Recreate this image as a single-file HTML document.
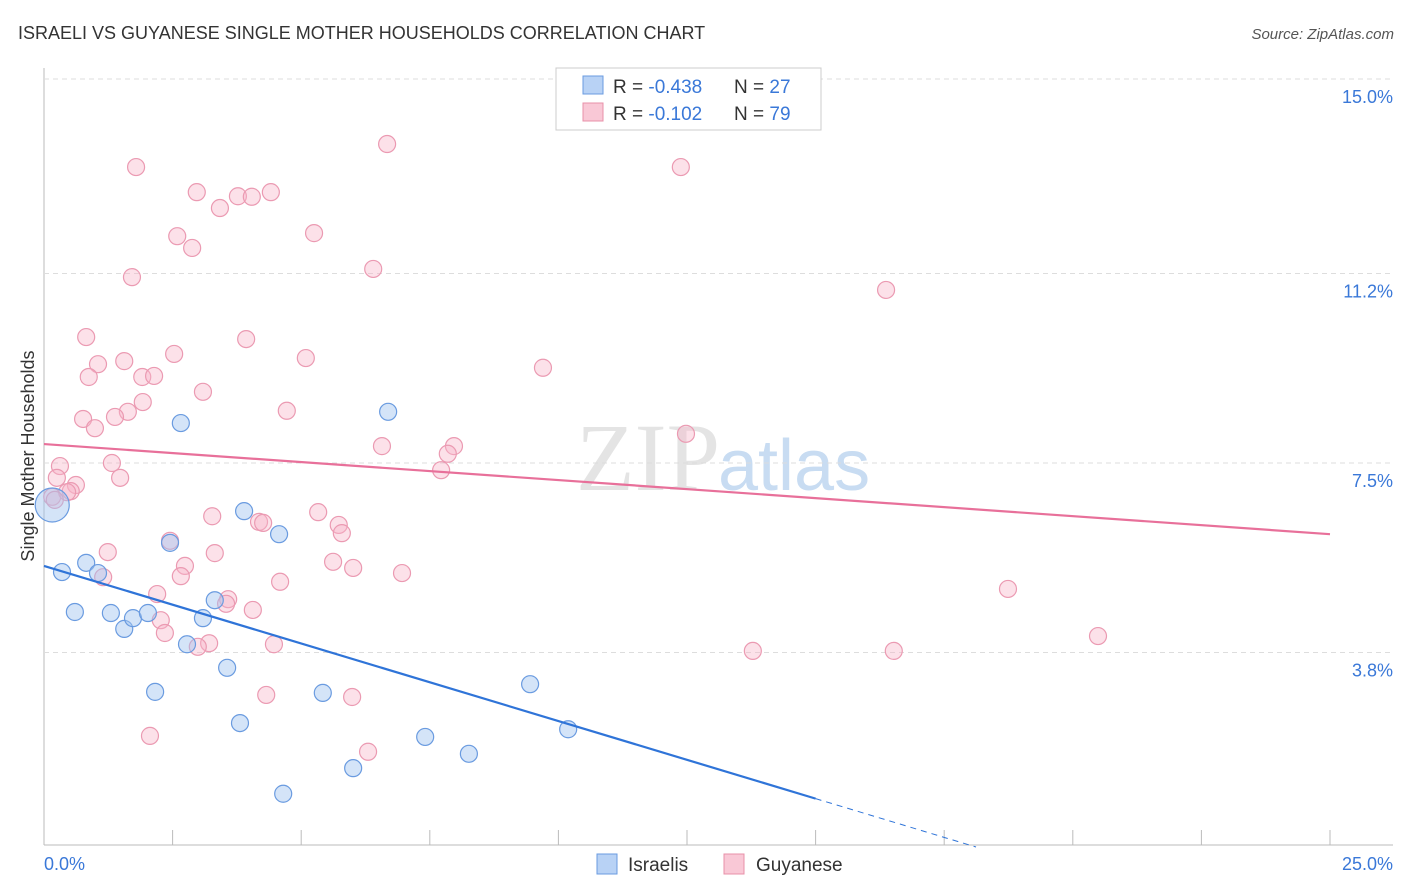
<!DOCTYPE html>
<html><head><meta charset="utf-8"><style>
body{margin:0;background:#fff;font-family:"Liberation Sans",sans-serif;}
#wrap{position:relative;width:1406px;height:892px;overflow:hidden;}
</style></head><body>
<div id="wrap">
<svg id="svg" width="1406" height="892" xmlns="http://www.w3.org/2000/svg">
<text x="18" y="39" font-size="18" fill="#333">ISRAELI VS GUYANESE SINGLE MOTHER HOUSEHOLDS CORRELATION CHART</text>
<text x="1394" y="39" font-size="15" fill="#555" font-style="italic" text-anchor="end">Source: ZipAtlas.com</text>
<text x="34" y="456" font-size="18" fill="#333" text-anchor="middle" transform="rotate(-90 34 456)">Single Mother Households</text>
<text x="720" y="490" font-size="96" fill="#e4e4e4" text-anchor="end" font-family="Liberation Serif">ZIP</text>
<text x="718" y="490" font-size="72" fill="#c8dcf2">atlas</text>
<g id="grid"></g>
<g id="marks"></g>
<g>
<rect x="556" y="68" width="265" height="62" fill="#fff" stroke="#ccc"/>
<rect x="583" y="76" width="20" height="18" fill="#b8d2f5" stroke="#6a9be0"/>
<rect x="583" y="103" width="20" height="18" fill="#f9c8d6" stroke="#e890a8"/>
<text x="613" y="93" font-size="19" fill="#333">R = <tspan fill="#3a78d8">-0.438</tspan></text>
<text x="734" y="93" font-size="19" fill="#333">N = <tspan fill="#3a78d8">27</tspan></text>
<text x="613" y="120" font-size="19" fill="#333">R = <tspan fill="#3a78d8"> -0.102</tspan></text>
<text x="734" y="120" font-size="19" fill="#333">N = <tspan fill="#3a78d8">79</tspan></text>
</g>
<g>
<rect x="597" y="854" width="20" height="20" fill="#b8d2f5" stroke="#6a9be0"/>
<text x="628" y="871" font-size="19" fill="#333">Israelis</text>
<rect x="724" y="854" width="20" height="20" fill="#f9c8d6" stroke="#e890a8"/>
<text x="756" y="871" font-size="19" fill="#333">Guyanese</text>
</g>
</svg>
</div>
<script>
const yTicks=[15.0,11.2,7.5,3.8];
const yTickLabels=["15.0%","11.2%","7.5%","3.8%"];
const xTickVals=[2.5,5,7.5,10,12.5,15,17.5,20,22.5,25];
const xEndLabels=["0.0%","25.0%"];
const israeliX=[0.16,0.35,0.60,0.82,1.05,1.30,1.56,1.73,2.02,2.16,2.45,2.66,2.78,3.09,3.32,3.56,3.81,3.89,4.57,4.65,5.42,6.01,6.69,7.41,8.26,9.45,10.19];
const israeliY=[6.68,5.37,4.59,5.55,5.35,4.57,4.26,4.47,4.57,3.03,5.94,8.28,3.96,4.47,4.82,3.50,2.42,6.56,6.11,1.04,3.01,1.54,8.50,2.15,1.82,3.18,2.30];
const guyX=[1.79,6.67,12.38,2.97,3.42,3.77,4.04,4.41,2.59,2.88,5.25,1.71,6.40,16.37,0.82,3.93,2.53,5.09,1.05,1.56,0.87,1.91,2.14,9.70,3.09,1.92,1.63,1.38,0.76,0.99,4.72,6.57,7.97,7.85,12.48,1.32,0.31,0.25,1.48,7.72,0.62,0.52,0.16,3.27,5.33,4.18,4.26,5.73,5.79,2.45,1.24,3.32,5.62,6.01,2.74,2.66,1.15,6.96,4.59,18.74,2.20,3.58,3.54,4.06,2.27,2.35,3.21,2.99,4.47,20.49,13.78,16.52,4.32,5.99,2.06,6.30,0.45,0.21];
const guyY=[13.28,13.73,13.28,12.79,12.48,12.71,12.70,12.79,11.93,11.70,11.99,11.13,11.29,10.88,9.96,9.92,9.63,9.55,9.43,9.49,9.18,9.18,9.20,9.36,8.89,8.69,8.50,8.40,8.36,8.18,8.52,7.83,7.83,7.68,8.07,7.50,7.44,7.21,7.21,7.36,7.07,6.95,6.84,6.46,6.54,6.35,6.33,6.29,6.13,5.98,5.76,5.74,5.57,5.45,5.49,5.29,5.27,5.35,5.18,5.04,4.94,4.84,4.75,4.63,4.43,4.18,3.98,3.91,3.96,4.12,3.83,3.83,2.97,2.93,2.17,1.86,6.93,6.78];
const blueTrend=[5.49,-0.303];
const pinkTrend=[7.87,-0.0704];

const NS="http://www.w3.org/2000/svg";
const X=v=>44+v*51.44, Y=v=>79+(15-v)*51.2;
const grid=document.getElementById('grid'), marks=document.getElementById('marks');
function mk(tag,attrs,parent){const e=document.createElementNS(NS,tag);for(const k in attrs)e.setAttribute(k,attrs[k]);parent.appendChild(e);return e;}
let e;
e=mk('line',{x1:44,y1:68,x2:44,y2:845,stroke:'#bbb'},grid);


e=mk('line',{x1:44,y1:845,x2:1393,y2:845,stroke:'#bbb'},grid);


yTicks.forEach((t,i)=>{
  e=mk('line',{x1:44,y1:Y(t),x2:1393,y2:Y(t),stroke:'#ddd','stroke-dasharray':'5,4'},grid);
  
  
  e=mk('text',{x:1393,y:Y(t)+24,'font-size':18,fill:'#3a78d8','text-anchor':'end'},grid);
  e.textContent=yTickLabels[i];
  
  
});
xTickVals.forEach(t=>{
  e=mk('line',{x1:X(t),y1:830,x2:X(t),y2:845,stroke:'#bbb'},grid);
  
  
});
e=mk('text',{x:44,y:870,'font-size':18,fill:'#3a78d8'},grid);e.textContent=xEndLabels[0];


e=mk('text',{x:1393,y:870,'font-size':18,fill:'#3a78d8','text-anchor':'end'},grid);e.textContent=xEndLabels[1];



guyX.forEach((x,i)=>{
  e=mk('circle',{cx:X(x),cy:Y(guyY[i]),r:8.5,fill:'rgba(248,180,200,0.4)',stroke:'#eb9ab2','stroke-width':1.2},marks);
  
  
});
israeliX.forEach((x,i)=>{
  e=mk('circle',{cx:X(x),cy:Y(israeliY[i]),r:i===0?17:8.5,fill:'rgba(160,195,240,0.45)',stroke:'#6a9be0','stroke-width':1.2},marks);
  
  
});
e=mk('line',{x1:X(0),y1:Y(pinkTrend[0]),x2:X(25),y2:Y(pinkTrend[0]+25*pinkTrend[1]),stroke:'#e8709a','stroke-width':2.2},marks);


e=mk('line',{x1:X(0),y1:Y(blueTrend[0]),x2:X(15),y2:Y(blueTrend[0]+15*blueTrend[1]),stroke:'#2f74d8','stroke-width':2.2},marks);


const xEnd=-blueTrend[0]/blueTrend[1];
e=mk('line',{x1:X(15),y1:Y(blueTrend[0]+15*blueTrend[1]),x2:X(xEnd),y2:Y(0),stroke:'#2f74d8','stroke-width':1,'stroke-dasharray':'6,5'},marks);


</script>
</body></html>
